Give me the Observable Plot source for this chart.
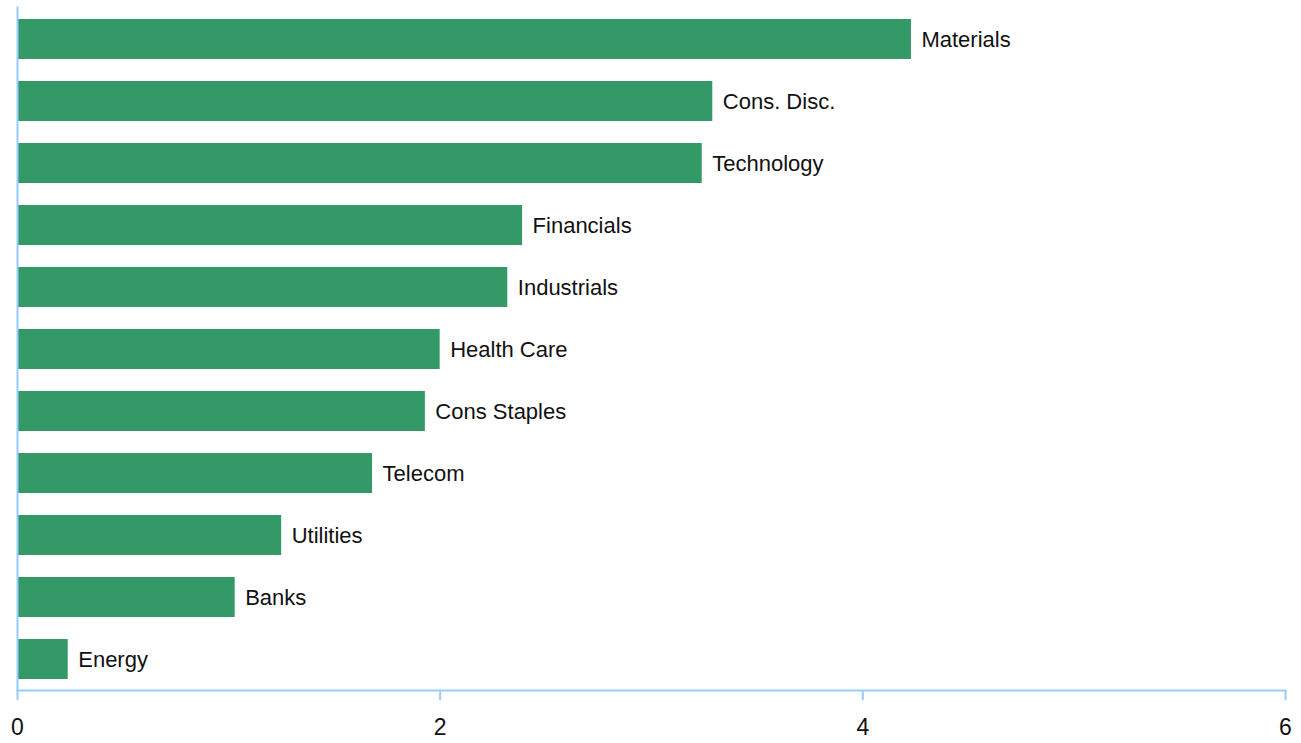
<!DOCTYPE html>
<html>
<head>
<meta charset="utf-8">
<script src="https://cdn.jsdelivr.net/npm/d3@7"></script>
<script src="https://cdn.jsdelivr.net/npm/@observablehq/plot@0.6"></script>
<style>
  html, body { margin: 0; padding: 0; background: #fff; }
</style>
</head>
<body>
<div id="chart"></div>
<script>
const categories = ["Materials", "Cons. Disc.", "Technology", "Financials", "Industrials", "Health Care", "Cons Staples", "Telecom", "Utilities", "Banks", "Energy"];
const values = [4.23, 3.29, 3.24, 2.39, 2.32, 2.00, 1.93, 1.68, 1.25, 1.03, 0.24];
const xTicks = [0, 2, 4, 6];

const data = categories.map((c, i) => ({cat: c, value: values[i]}));
const axisColor = "#99ccff";

const chart = Plot.plot({
  width: 1301,
  height: 743,
  marginTop: 7,
  marginBottom: 53,
  marginLeft: 17,
  marginRight: 16,
  style: {fontFamily: "'Liberation Sans', Arial, sans-serif", fontSize: "22px", background: "#fff"},
  x: {domain: [0, 6], axis: null},
  y: {domain: categories, axis: null, paddingInner: 0.355, paddingOuter: 0.185},
  marks: [
    Plot.barX(data, {x: "value", y: "cat", fill: "#339966"}),
    Plot.text(data, {x: "value", y: "cat", text: "cat", dx: 10, textAnchor: "start", fill: "#111", fontSize: 22}),
    Plot.frame({anchor: "left", stroke: axisColor, strokeWidth: 2}),
    Plot.frame({anchor: "bottom", stroke: axisColor, strokeWidth: 2}),
    Plot.axisX({ticks: xTicks, label: null, tickSize: 10, tickPadding: 18, stroke: axisColor, strokeWidth: 2, fill: "#111", fontSize: 23, tickFormat: d => String(d)})
  ]
});
document.getElementById("chart").appendChild(chart);
</script>
</body>
</html>
